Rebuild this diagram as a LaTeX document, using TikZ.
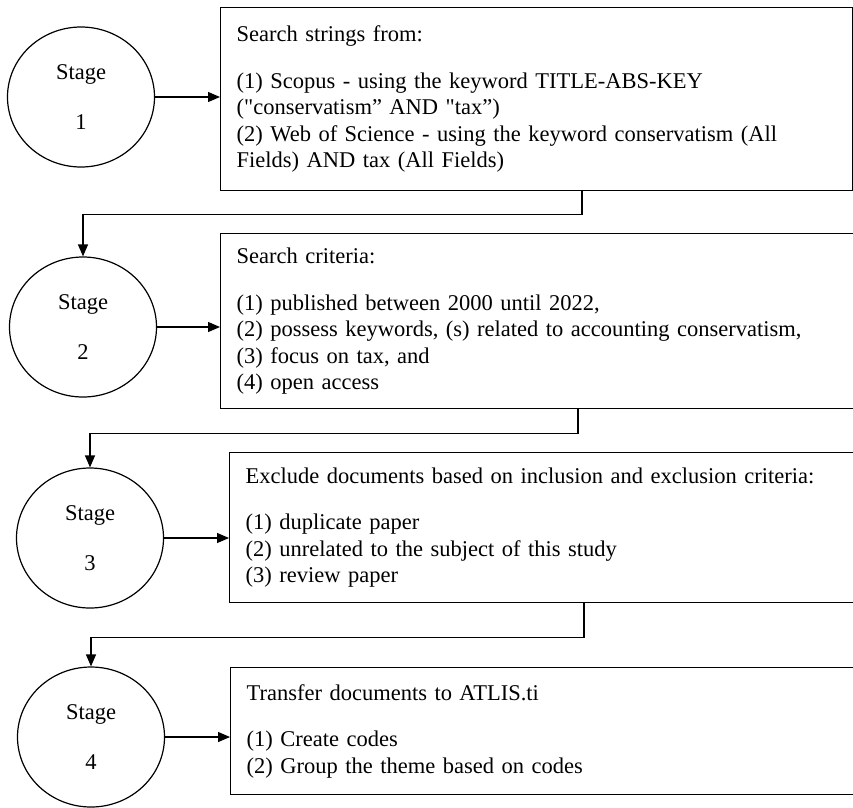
\documentclass[tikz,border=0pt]{standalone}
\usepackage{fontspec}
\setmainfont{Liberation Serif}
\usetikzlibrary{shapes.geometric, arrows.meta, positioning}
\tikzstyle{stage} = [ellipse, draw=black, line width=1.2pt, minimum width=147pt, minimum height=140pt, inner sep=0pt, align=center]
\tikzstyle{textbox} = [rectangle, draw=black, line width=1.2pt, anchor=north west, align=left, inner xsep=16pt]
\tikzstyle{arrow} = [line width=1.2pt, -{Triangle[length=12pt,width=10pt]}]

\begin{document}
\begin{tikzpicture}[x=1pt, y=-1pt, font=\fontsize{22.5}{26.5}\selectfont]
\useasboundingbox (0,0) rectangle (853,807);
\clip (0,0) rectangle (853,807);

%stages
\node (stage1) [stage] at (81,97) {Stage\\[24pt]1};
\node (stage2) [stage] at (83,327) {Stage\\[24pt]2};
\node (stage3) [stage] at (90,538) {Stage\\[24pt]3};
\node (stage4) [stage] at (91,737) {Stage\\[24pt]4};

%boxes
\node (box1) [textbox, minimum height=183pt, text width=600pt] at (220,7) {Search strings from:\\[20pt]
(1) Scopus - using the keyword TITLE-ABS-KEY\\
(\textquotedbl conservatism” AND \textquotedbl tax”)\\
(2) Web of Science - using the keyword conservatism (All\\
Fields) AND tax (All Fields)};
\node (box2) [textbox, minimum height=175pt, text width=618pt] at (220,233) {Search criteria:\\[20pt]
(1) published between 2000 until 2022,\\
(2) possess keywords, (s) related to accounting conservatism,\\
(3) focus on tax, and\\
(4) open access};
\node (box3) [textbox, minimum height=150pt, text width=608pt] at (229,452) {Exclude documents based on inclusion and exclusion criteria:\\[20pt]
(1) duplicate paper\\
(2) unrelated to the subject of this study\\
(3) review paper};
\node (box4) [textbox, minimum height=127pt, text width=608pt] at (230,667) {Transfer documents to ATLIS.ti\\[20pt]
(1) Create codes\\
(2) Group the theme based on codes};

%% arrows
\draw [arrow] (stage1.east) -- (stage1.east -| box1.west);
\draw [arrow] (stage2.east) -- (stage2.east -| box2.west);
\draw [arrow] (stage3.east) -- (stage3.east -| box3.west);
\draw [arrow] (stage4.east) -- (stage4.east -| box4.west);
\draw [arrow] ([xshift=362pt]box1.south west) -- ++(0,23) -| (stage2.north);
\draw [arrow] ([xshift=358pt]box2.south west) -- ++(0,24) -| (stage3.north);
\draw [arrow] ([xshift=355pt]box3.south west) -- ++(0,34) -| (stage4.north);

\end{tikzpicture}
\end{document}
